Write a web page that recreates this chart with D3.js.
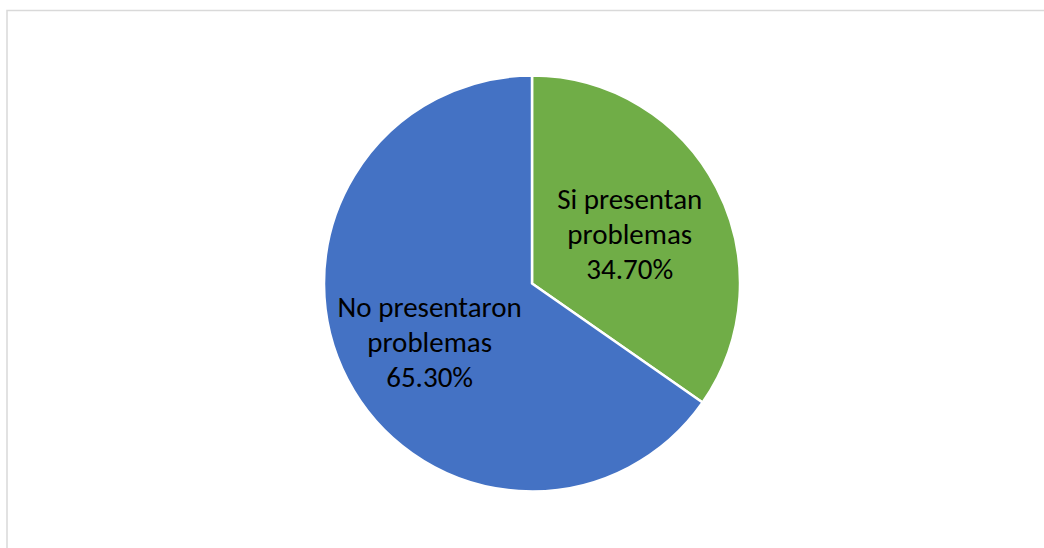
<!DOCTYPE html>
<html><head><meta charset="utf-8">
<script src="https://cdn.jsdelivr.net/npm/d3@7"></script>
<style>html,body{margin:0;padding:0;background:#fff;overflow:hidden}</style>
</head><body>
<svg id="c" width="1044" height="548"></svg>
<script>
const categories = ["Si presentan problemas", "No presentaron problemas"];
const labelLines = [["Si presentan", "problemas"], ["No presentaron", "problemas"]];
const values = [34.70, 65.30];
const colors = ["#70AD47", "#4472C4"];

const svg = d3.select("#c");
svg.append("rect").attr("x", 7).attr("y", 10.5).attr("width", 1100).attr("height", 600)
  .attr("fill", "#fff").attr("stroke", "#d9d9d9").attr("stroke-width", 1.5);

const cx = 532, cy = 283.5, r = 208;
const g = svg.append("g").attr("transform", `translate(${cx},${cy})`);
const pie = d3.pie().sort(null).value(d => d)(values);
const arc = d3.arc().innerRadius(0).outerRadius(r);
g.selectAll("path").data(pie).join("path")
  .attr("d", arc).attr("fill", (d, i) => colors[i])
  .attr("stroke", "#fff").attr("stroke-width", 2.5).attr("stroke-linejoin", "round");

const labelRadius = [0.53, 0.555];
const labelShiftY = [0, 4];
const fs = 29, lh = 35;
pie.forEach((d, i) => {
  const la = d3.arc().innerRadius(r * labelRadius[i]).outerRadius(r * labelRadius[i]);
  const [x, y0] = la.centroid(d);
  const y = y0 + labelShiftY[i];
  const lines = labelLines[i].concat([d3.format(".2f")(values[i]) + "%"]);
  const t = g.append("text").attr("x", x).attr("y", y)
    .attr("text-anchor", "middle").attr("font-family", "Carlito, Lato, 'Open Sans', sans-serif")
    .attr("font-size", fs).attr("fill", "#000");
  lines.forEach((s, k) => {
    t.append("tspan").attr("x", x).attr("y", y + (k - 1) * lh + fs * 0.38).text(s);
  });
});
</script>
</body></html>
